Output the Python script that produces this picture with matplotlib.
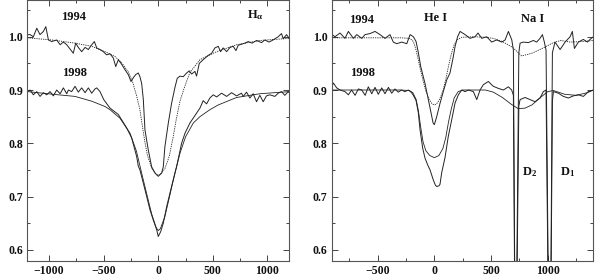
import numpy as np
import matplotlib
matplotlib.use("Agg")
import matplotlib.pyplot as plt
from matplotlib.ticker import MultipleLocator

plt.rcParams['font.family'] = ['Liberation Serif', 'DejaVu Serif']
plt.rcParams['font.weight'] = 'bold'
plt.rcParams['mathtext.fontset'] = 'custom'
plt.rcParams['mathtext.rm'] = 'Liberation Serif:bold'
plt.rcParams['mathtext.it'] = 'Liberation Serif:bold'
plt.rcParams['mathtext.bf'] = 'Liberation Serif:bold'

# ---- H-alpha panel (velocity km/s, relative flux) ----
ha94_x = [-1200, -1175, -1145, -1114, -1084, -1053, -1031, -1007, -977, -931, -900, -870, -839,
          -779, -757, -733, -702, -671, -641, -610, -586, -564, -534, -504, -473, -442, -412,
          -390, -366, -335, -305, -275, -250, -229, -207, -183, -168, -152, -137, -122, -92,
          -61, -30, 0, 31, 46, 61, 92, 122, 153, 174, 199, 229, 260, 284, 306, 336, 351, 376,
          412, 458, 489, 519, 550, 571, 595, 627, 657, 687, 712, 733, 763, 794, 825, 860, 901,
          947, 977, 1015, 1053, 1099, 1130, 1145, 1176, 1200]
ha94_y = [1.004, 1.004, 1.000, 1.016, 1.004, 1.010, 1.019, 0.994, 0.991, 0.994, 0.985, 0.990, 0.985,
          0.969, 0.988, 0.980, 0.972, 0.980, 0.976, 0.985, 0.991, 0.979, 0.976, 0.972, 0.966, 0.968, 0.960,
          0.944, 0.957, 0.948, 0.938, 0.929, 0.916, 0.923, 0.929, 0.932, 0.925, 0.912, 0.882, 0.825, 0.788,
          0.756, 0.744, 0.738, 0.744, 0.756, 0.794, 0.838, 0.875, 0.905, 0.922, 0.926, 0.925, 0.932, 0.936,
          0.930, 0.935, 0.926, 0.950, 0.957, 0.965, 0.969, 0.979, 0.982, 0.972, 0.979, 0.972, 0.980, 0.982,
          0.974, 0.984, 0.986, 0.988, 0.991, 0.988, 0.993, 0.989, 0.994, 0.990, 0.994, 1.000, 1.006, 0.996,
          1.004, 0.997]

ha94fit_x = [-1200, -977, -763, -610, -488, -397, -335, -275, -235, -200, -170, -150, -125, -100,
             -60, -15, 15, 60, 100, 135, 165, 200, 240, 290, 382, 535, 718, 932, 1200]
ha94fit_y = [0.998, 0.994, 0.988, 0.982, 0.972, 0.963, 0.951, 0.934, 0.915, 0.890, 0.865, 0.838,
             0.805, 0.778, 0.753, 0.741, 0.741, 0.752, 0.775, 0.810, 0.845, 0.880, 0.905, 0.933,
             0.957, 0.972, 0.985, 0.993, 0.997]

ha98_x = [-1200, -1175, -1145, -1114, -1084, -1053, -1023, -992, -962, -931, -900, -870, -839,
          -824, -794, -763, -733, -702, -671, -641, -610, -580, -564, -534, -500, -442, -366,
          -290, -244, -198, -183, -168, -137, -106, -76, -46, -15, 0, 22, 46, 77, 122, 168, 214,
          245, 290, 336, 382, 412, 443, 473, 504, 535, 580, 627, 672, 718, 763, 779, 809, 840,
          870, 901, 931, 962, 992, 1023, 1069, 1099, 1130, 1160, 1191, 1200]
ha98_y = [0.897, 0.900, 0.891, 0.897, 0.888, 0.895, 0.891, 0.897, 0.889, 0.900, 0.893, 0.904, 0.893,
          0.900, 0.897, 0.907, 0.896, 0.904, 0.895, 0.904, 0.894, 0.902, 0.904, 0.897, 0.882, 0.866, 0.854,
          0.829, 0.810, 0.775, 0.757, 0.750, 0.725, 0.700, 0.675, 0.656, 0.638, 0.625, 0.634, 0.650, 0.681,
          0.719, 0.756, 0.800, 0.819, 0.838, 0.852, 0.866, 0.880, 0.874, 0.885, 0.891, 0.887, 0.894, 0.888,
          0.895, 0.889, 0.894, 0.888, 0.896, 0.885, 0.893, 0.878, 0.890, 0.878, 0.889, 0.891, 0.888, 0.894,
          0.897, 0.890, 0.897, 0.895]

ha98fit_x = [-1200, -916, -763, -610, -488, -442, -351, -259, -200, -150, -100, -60, -20, 0, 20, 60,
             100, 150, 200, 250, 321, 382, 473, 550, 718, 932, 1200]
ha98fit_y = [0.897, 0.891, 0.888, 0.879, 0.869, 0.863, 0.847, 0.819, 0.785, 0.742, 0.700, 0.667,
             0.642, 0.636, 0.640, 0.662, 0.697, 0.742, 0.782, 0.812, 0.838, 0.850, 0.863, 0.872,
             0.886, 0.893, 0.897]

# ---- He I / Na I panel ----
he94_x = [-920, -876, -832, -788, -758, -714, -684, -640, -611, -567, -523, -479, -435, -391, -362,
          -332, -288, -243, -214, -185, -161, -141, -120, -82, -53, -29, -11, 0, 21, 50, 79, 109,
          138, 165, 183, 205, 227, 271, 315, 359, 385, 418, 462, 506, 550, 594, 624, 653, 683, 697,
          716, 745, 756, 785, 829, 873, 902, 932, 953, 970, 985, 1018, 1041, 1064, 1109, 1153, 1197,
          1217, 1235, 1270, 1314, 1350, 1373, 1402]
he94_y = [1.007, 1.000, 1.007, 0.997, 1.010, 0.997, 1.004, 0.997, 1.004, 1.006, 1.010, 1.004, 0.997,
          1.004, 0.990, 0.987, 0.990, 0.987, 1.004, 1.000, 0.991, 0.970, 0.944, 0.912, 0.882, 0.857, 0.838,
          0.835, 0.850, 0.875, 0.897, 0.919, 0.932, 0.960, 0.982, 1.000, 1.010, 1.004, 0.997, 1.000, 1.007,
          0.997, 1.000, 0.990, 0.994, 0.990, 0.994, 1.010, 0.994, 0.975, 0.30, 0.970, 0.988, 0.990, 0.989,
          0.993, 0.990, 0.997, 1.004, 0.990, 0.975, 0.25, 0.970, 0.990, 0.976, 0.990, 1.000, 1.010, 0.978,
          0.990, 0.995, 0.990, 0.995, 1.000]

he94fit_x = [-920, -600, -300, -214, -185, -165, -145, -125, -100, -75, -45, -20, 0, 20, 45, 75, 100,
             125, 150, 175, 200, 240, 350, 450, 520, 600, 690, 770, 860, 960, 1050, 1115, 1200, 1300, 1402]
he94fit_y = [0.998, 0.998, 0.998, 0.997, 0.991, 0.978, 0.960, 0.940, 0.918, 0.898, 0.882, 0.874,
             0.872, 0.874, 0.882, 0.898, 0.919, 0.945, 0.968, 0.985, 0.994, 0.999, 1.000, 0.999,
             0.997, 0.991, 0.980, 0.964, 0.969, 0.979, 0.989, 0.993, 0.990, 0.991, 0.993]

he98_x = [-920, -890, -861, -830, -788, -758, -730, -699, -670, -640, -610, -582, -552, -523, -494,
          -464, -435, -405, -376, -347, -318, -290, -260, -229, -200, -185, -161, -141, -126, -102,
          -82, -60, -38, -9, 10, 21, 40, 50, 65, 94, 123, 153, 183, 212, 242, 271, 300, 344, 374,
          403, 432, 476, 520, 565, 609, 653, 682, 697, 716, 745, 756, 800, 844, 888, 932, 961, 985,
          1018, 1041, 1050, 1094, 1138, 1182, 1226, 1270, 1314, 1358, 1402]
he98_y = [0.900, 0.913, 0.904, 0.900, 0.897, 0.891, 0.900, 0.890, 0.902, 0.900, 0.890, 0.906, 0.893,
          0.905, 0.892, 0.904, 0.893, 0.905, 0.894, 0.902, 0.896, 0.900, 0.897, 0.900, 0.895, 0.890,
          0.880, 0.857, 0.825, 0.790, 0.772, 0.760, 0.750, 0.731, 0.721, 0.719, 0.720, 0.723, 0.745,
          0.773, 0.813, 0.844, 0.876, 0.891, 0.900, 0.897, 0.900, 0.897, 0.882, 0.900, 0.910, 0.916,
          0.907, 0.903, 0.900, 0.906, 0.900, 0.890, 0.28, 0.870, 0.882, 0.886, 0.882, 0.878, 0.885,
          0.897, 0.900, 0.22, 0.880, 0.897, 0.894, 0.888, 0.885, 0.889, 0.891, 0.888, 0.897, 0.900]

he98fit_x = [-920, -600, -300, -220, -190, -160, -140, -120, -100, -75, -40, 0, 40, 75, 100, 125,
             150, 175, 210, 250, 450, 520, 600, 680, 740, 800, 860, 930, 1000, 1050, 1150, 1250,
             1350, 1402]
he98fit_y = [0.900, 0.900, 0.900, 0.899, 0.895, 0.882, 0.860, 0.830, 0.803, 0.786, 0.777, 0.773,
             0.777, 0.790, 0.810, 0.840, 0.865, 0.885, 0.897, 0.900, 0.900, 0.896, 0.886, 0.873,
             0.865, 0.866, 0.872, 0.885, 0.897, 0.899, 0.892, 0.890, 0.895, 0.900]

fig = plt.figure(figsize=(5.95, 2.77), dpi=100)
ax1 = fig.add_axes([0.046, 0.0578, 0.440, 0.9422])
ax2 = fig.add_axes([0.5575, 0.0578, 0.4397, 0.9422])

lc = '#222222'
obs_kw = dict(color=lc, lw=0.7)
fit_kw = dict(color=lc, lw=0.6)
dash_kw = dict(color=lc, lw=0.6, ls=(0, (1.5, 1.2)))

ax1.plot(ha94_x, ha94_y, **obs_kw)
ax1.plot(ha94fit_x, ha94fit_y, **dash_kw)
ax1.plot(ha98_x, ha98_y, **obs_kw)
ax1.plot(ha98fit_x, ha98fit_y, **fit_kw)

ax2.plot(he94_x, he94_y, **obs_kw)
ax2.plot(he94fit_x, he94fit_y, **dash_kw)
ax2.plot(he98_x, he98_y, **obs_kw)
ax2.plot(he98fit_x, he98fit_y, **fit_kw)

ax1.set_xlim(-1200, 1200)
ax2.set_xlim(-905, 1402)
for ax in (ax1, ax2):
    ax.set_ylim(0.579, 1.069)
    ax.xaxis.set_major_locator(MultipleLocator(500))
    ax.xaxis.set_minor_locator(MultipleLocator(250))
    ax.yaxis.set_major_locator(MultipleLocator(0.1))
    ax.yaxis.set_minor_locator(MultipleLocator(0.05))
    ax.tick_params(which='both', direction='in', top=True, right=True,
                   width=0.7, colors='#444444', labelcolor='#111111', labelsize=8.5, pad=3)
    ax.tick_params(which='major', length=4.5)
    ax.tick_params(which='minor', length=2.5)
    for s in ax.spines.values():
        s.set_linewidth(0.8)
        s.set_color('#555555')

tk = dict(fontsize=9, ha='center', va='center', color='#111111')
ax1.text(-777, 1.037, '1994', **tk)
ax1.text(-763, 0.932, '1998', **tk)
ax1.text(890, 1.040, r'H$_\alpha$', **tk)

ax2.text(-640, 1.032, '1994', **tk)
ax2.text(-634, 0.932, '1998', **tk)
ax2.text(15, 1.036, 'He I', **tk)
ax2.text(866, 1.034, 'Na I', **tk)
ax2.text(775, 0.746, r'D$_2$', fontsize=9, ha='left', va='center', color='#111111')
ax2.text(1110, 0.746, r'D$_1$', fontsize=9, ha='left', va='center', color='#111111')

fig.savefig('out.png', dpi=100)
